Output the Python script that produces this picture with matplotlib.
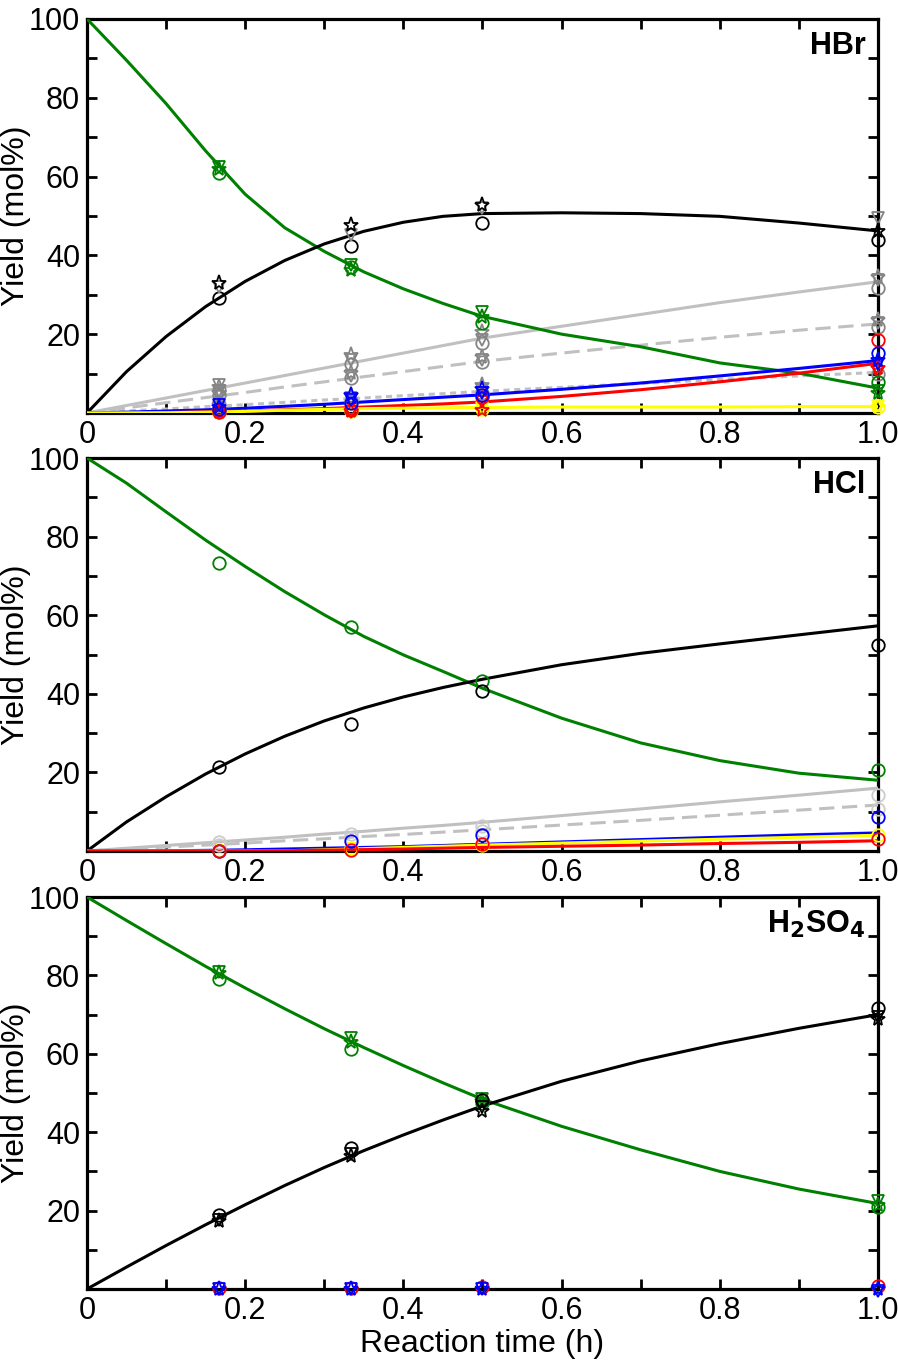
import matplotlib
matplotlib.use('Agg')
import matplotlib.pyplot as plt

plt.rcParams['font.family'] = ['Liberation Sans', 'DejaVu Sans']

# sampling times (h)
t_exp = [1/6, 1/3, 0.5, 1.0]
t_fit = [0, 0.05, 0.1, 0.15, 0.2, 0.25, 0.3, 0.35, 0.4, 0.45, 0.5,
         0.6, 0.7, 0.8, 0.9, 1.0]

# ---- HBr ----
hbr_green_fit = [100, 89.5, 78.5, 66.5, 55.5, 47.0, 41.0, 35.8, 31.5, 27.8, 24.5,
                 20.0, 16.8, 12.7, 10.1, 6.3]
hbr_black_fit = [0, 10.5, 19.4, 27.0, 33.4, 38.7, 42.9, 46.1, 48.4, 49.9, 50.6,
                 50.8, 50.6, 49.9, 48.2, 46.2]
hbr_gray1_fit = [0, 1.9, 3.8, 5.7, 7.6, 9.5, 11.4, 13.3, 15.2, 17.1, 19.0,
                 22.0, 25.0, 28.0, 30.7, 33.3]
hbr_gray2_fit = [0, 1.3, 2.6, 3.9, 5.2, 6.6, 7.9, 9.2, 10.5, 11.8, 13.1,
                 15.2, 17.2, 19.2, 21.0, 22.6]
hbr_gray3_fit = [0, 0.5, 1.0, 1.6, 2.1, 2.7, 3.3, 3.8, 4.4, 4.9, 5.5,
                 6.5, 7.5, 8.5, 9.4, 10.3]
hbr_blue_fit = [0, 0.2, 0.5, 0.8, 1.2, 1.7, 2.2, 2.8, 3.4, 4.0, 4.6,
                6.0, 7.6, 9.4, 11.3, 13.3]
hbr_red_fit = [0, 0.05, 0.1, 0.3, 0.5, 0.8, 1.1, 1.5, 1.9, 2.3, 2.8,
               4.2, 5.9, 7.9, 10.1, 12.6]
hbr_yellow_fit = [0, 0, 0.05, 0.2, 0.4, 0.7, 0.9, 1.1, 1.2, 1.3, 1.4,
                  1.5, 1.5, 1.5, 1.6, 1.6]

hbr_green_o = [61, 37, 22.8, 7.9]
hbr_green_v = [62.5, 37.5, 25.6, 5.5]
hbr_green_s = [62, 36.3, 24.4, 5.0]
hbr_black_o = [29.2, 42.4, 48.2, 44]
hbr_black_v = [32, 45.2, 52, 49.5]
hbr_black_s = [33, 47.7, 52.8, 46.2]
hbr_gray1_o = [5.8, 12.4, 17.8, 31.7]
hbr_gray1_v = [7.1, 13.5, 18.5, 33.8]
hbr_gray1_s = [6.5, 14.7, 20.6, 34.5]
hbr_gray2_o = [4.5, 8.9, 12.9, 21.8]
hbr_gray2_v = [5.5, 9.5, 13.5, 22.8]
hbr_gray2_s = [5.0, 10.1, 14.2, 23.6]
hbr_gray3_o = [1.0, 3.0, 5.0, 10]
hbr_gray3_v = [1.5, 3.8, 5.8, 10.5]
hbr_gray3_s = [2.0, 4.6, 7.1, 11.5]
hbr_blue_o = [1.0, 2.5, 4.6, 15.2]
hbr_blue_v = [2.0, 3.3, 5.1, 12.5]
hbr_blue_s = [1.5, 4.6, 6.0, 13.5]
hbr_red_o = [0.3, 0.8, 4.1, 18.5]
hbr_red_v = [0, 0.3, 2.8, 10.4]
hbr_red_s = [0.2, 0.5, 0.8, 11.5]
hbr_yellow_o = [0.3, 0.5, 1.0, 1.5]
hbr_yellow_v = [0, 0.3, 1.2, 1.8]
hbr_yellow_s = [0.2, 0.5, 0.8, 1.5]

# ---- HCl ----
hcl_green_fit = [100, 93.6, 86.3, 79.1, 72.4, 66.0, 60.1, 54.6, 49.9, 45.7, 41.4,
                 33.8, 27.5, 23.0, 19.8, 18.0]
hcl_black_fit = [0, 7.4, 13.8, 19.6, 24.7, 29.2, 33.1, 36.4, 39.2, 41.6, 43.7,
                 47.4, 50.3, 52.7, 55.0, 57.3]
hcl_gray1_fit = [0, 0.7, 1.4, 2.1, 2.8, 3.5, 4.3, 5.0, 5.8, 6.5, 7.3,
                 9.0, 10.7, 12.5, 14.2, 16.0]
hcl_gray2_fit = [0, 0.5, 1.0, 1.5, 2.0, 2.6, 3.1, 3.7, 4.2, 4.8, 5.4,
                 6.6, 7.8, 9.1, 10.4, 11.7]
hcl_blue_fit = [0, 0, 0.05, 0.15, 0.3, 0.5, 0.7, 0.9, 1.1, 1.4, 1.7,
                2.3, 2.9, 3.5, 4.1, 4.6]
hcl_yellow_fit = [0, 0, 0, 0, 0, 0.05, 0.3, 0.6, 0.9, 1.2, 1.5,
                  2.0, 2.5, 3.0, 3.5, 4.0]
hcl_red_fit = [0, 0, 0, 0, 0, 0.05, 0.2, 0.35, 0.5, 0.7, 0.9,
               1.2, 1.5, 1.9, 2.2, 2.6]

hcl_green_o = [73.3, 57, 43.3, 20.6]
hcl_black_o = [21.4, 32.3, 40.7, 52.4]
hcl_gray1_o = [2.3, 4.3, 6.4, 14.2]
hcl_gray2_o = [1.5, 3.2, 5.0, 10.7]
hcl_blue_o = [0, 2.5, 4, 8.6]
hcl_yellow_o = [0.3, 0.8, 1.5, 4.0]
hcl_red_o = [0, 0.3, 1.8, 3.1]

# ---- H2SO4 ----
h2so4_green_fit = [100, 94.0, 88.1, 82.3, 76.8, 71.5, 66.4, 61.6, 57.0, 52.6, 48.4,
                   41.5, 35.5, 30.0, 25.5, 21.8]
h2so4_black_fit = [0, 5.6, 11.1, 16.4, 21.5, 26.4, 31.0, 35.3, 39.3, 43.1, 46.7,
                   53.0, 58.2, 62.6, 66.5, 70.0]

h2so4_green_o = [79.1, 61.2, 47.5, 20.9]
h2so4_green_v = [80.9, 64, 48.5, 22.4]
h2so4_green_s = [80.5, 63, 48, 21.5]
h2so4_black_o = [18.9, 36, 48.2, 71.7]
h2so4_black_v = [17.5, 34.5, 46.5, 69.5]
h2so4_black_s = [17.3, 34, 45.5, 69]
h2so4_red_o = [0.3, 0.3, 0.5, 0.7]
h2so4_blue_v = [0, 0, 0, -0.5]
h2so4_blue_s = [0, 0, 0, 0]

GREEN = '#008000'
LGRAY = '#c0c0c0'
MGRAY = '#858585'


def fit(ax, y, color, ls='-'):
    ax.plot(t_fit, y, color=color, lw=2.2, ls=ls, zorder=3)


def pts(ax, y, color, m):
    ms = 11 if m == '*' else 9
    ax.plot(t_exp, y, ls='none', marker=m, ms=ms, mfc='none', mec=color,
            mew=1.3, clip_on=False, zorder=6)


def style(ax, label):
    ax.set_xlim(0, 1)
    ax.set_ylim(0, 100)
    ax.set_xticks([0, 0.2, 0.4, 0.6, 0.8, 1.0])
    ax.set_xticklabels(['0', '0.2', '0.4', '0.6', '0.8', '1.0'])
    ax.set_xticks([0.1, 0.3, 0.5, 0.7, 0.9], minor=True)
    ax.set_yticks([20, 40, 60, 80, 100])
    ax.set_yticks([10, 30, 50, 70, 90], minor=True)
    ax.tick_params(which='both', direction='in', top=True, right=True,
                   length=7, width=2.0, labelsize=22, pad=5)
    for s in ax.spines.values():
        s.set_linewidth(2.3)
    ax.set_ylabel('Yield (mol%)', fontsize=23)
    ax.yaxis.set_label_coords(-0.071, 0.5)
    ax.text(0.984, 0.931, label, transform=ax.transAxes, ha='right',
            va='center', fontsize=22, fontweight='bold')


fig = plt.figure(figsize=(8.98, 13.62), dpi=100)
ax1 = fig.add_axes([0.0969, 0.6968, 0.8808, 0.2893])
ax2 = fig.add_axes([0.0969, 0.3752, 0.8808, 0.2885])
ax3 = fig.add_axes([0.0969, 0.0536, 0.8808, 0.2878])

# HBr panel
fit(ax1, hbr_gray1_fit, LGRAY)
fit(ax1, hbr_gray2_fit, LGRAY, (0, (5, 2.5)))
fit(ax1, hbr_gray3_fit, LGRAY, (0, (2, 1.5)))
fit(ax1, hbr_green_fit, GREEN)
fit(ax1, hbr_black_fit, 'black')
fit(ax1, hbr_blue_fit, 'blue')
fit(ax1, hbr_red_fit, 'red')
fit(ax1, hbr_yellow_fit, '#ffff00')
for y_o, y_v, y_s, c, cv in [
        (hbr_gray1_o, hbr_gray1_v, hbr_gray1_s, MGRAY, MGRAY),
        (hbr_gray2_o, hbr_gray2_v, hbr_gray2_s, MGRAY, MGRAY),
        (hbr_gray3_o, hbr_gray3_v, hbr_gray3_s, MGRAY, MGRAY),
        (hbr_yellow_o, hbr_yellow_v, hbr_yellow_s, '#ffff00', '#ffff00'),
        (hbr_red_o, hbr_red_v, hbr_red_s, 'red', 'red'),
        (hbr_blue_o, hbr_blue_v, hbr_blue_s, 'blue', 'blue'),
        (hbr_green_o, hbr_green_v, hbr_green_s, GREEN, GREEN),
        (hbr_black_o, hbr_black_v, hbr_black_s, 'black', MGRAY)]:
    pts(ax1, y_o, c, 'o')
    pts(ax1, y_v, cv, 'v')
    pts(ax1, y_s, c, '*')
style(ax1, 'HBr')

# HCl panel
fit(ax2, hcl_gray1_fit, LGRAY)
fit(ax2, hcl_gray2_fit, LGRAY, (0, (5, 2.5)))
fit(ax2, hcl_green_fit, GREEN)
fit(ax2, hcl_black_fit, 'black')
fit(ax2, hcl_blue_fit, 'blue')
fit(ax2, hcl_yellow_fit, '#ffff00')
fit(ax2, hcl_red_fit, 'red')
for y_o, c in [(hcl_gray1_o, '#cccccc'), (hcl_gray2_o, '#cccccc'),
               (hcl_yellow_o, '#ffff00'), (hcl_blue_o, 'blue'),
               (hcl_red_o, 'red'), (hcl_green_o, GREEN),
               (hcl_black_o, 'black')]:
    pts(ax2, y_o, c, 'o')
style(ax2, 'HCl')

# H2SO4 panel
fit(ax3, h2so4_green_fit, GREEN)
fit(ax3, h2so4_black_fit, 'black')
pts(ax3, h2so4_green_o, GREEN, 'o')
pts(ax3, h2so4_green_v, GREEN, 'v')
pts(ax3, h2so4_green_s, GREEN, '*')
pts(ax3, h2so4_black_o, 'black', 'o')
pts(ax3, h2so4_black_v, 'black', 'v')
pts(ax3, h2so4_black_s, 'black', '*')
pts(ax3, h2so4_red_o, 'red', 'o')
pts(ax3, h2so4_blue_v, 'blue', 'v')
pts(ax3, h2so4_blue_s, 'blue', '*')
style(ax3, 'H$_\\mathbf{2}$SO$_\\mathbf{4}$')
ax3.set_xlabel('Reaction time (h)', fontsize=23, labelpad=2)

fig.savefig('out.png', dpi=100)
